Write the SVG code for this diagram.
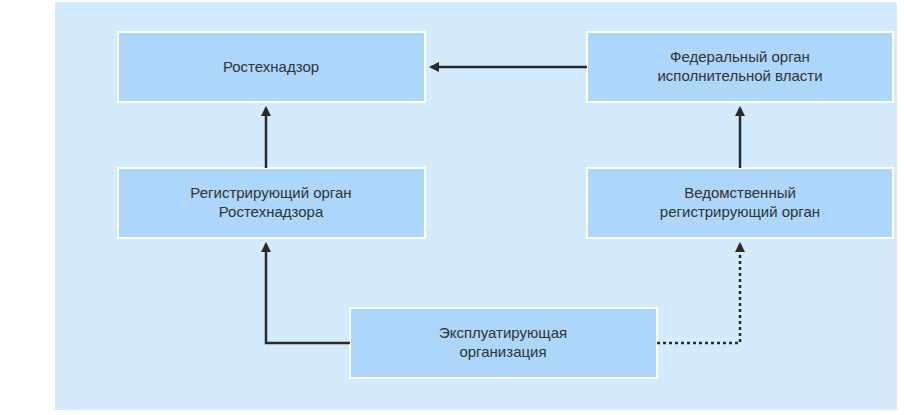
<svg xmlns="http://www.w3.org/2000/svg" width="904" height="415" viewBox="0 0 904 415">
<style>
.n rect{fill:#acd6fa;stroke:#fff;stroke-width:2}
.n text{font-family:"Liberation Sans",Arial,sans-serif;font-size:15px;fill:#333;text-anchor:middle}
.c{fill:none;stroke:#2a2a2a;stroke-width:2.5}
</style>
<defs><marker id="a" markerWidth="10" markerHeight="10" refX="8" refY="5" orient="auto" markerUnits="userSpaceOnUse"><path d="M0,0 L10,5 L0,10 Z" fill="#2a2a2a"/></marker></defs>
<rect x="0" y="0" width="904" height="415" fill="#fff"/>
<rect x="55" y="2" width="842" height="408" fill="#d3ebfc"/>
<g id="n1" class="n"><rect x="118" y="32" width="307" height="70"/><text x="271" y="72">Ростехнадзор</text></g>
<g id="n2" class="n"><rect x="587" y="32" width="306" height="70"/><text x="740" y="62">Федеральный орган</text><text x="740" y="81">исполнительной власти</text></g>
<g id="n3" class="n"><rect x="118" y="168" width="307" height="70"/><text x="271" y="198">Регистрирующий орган</text><text x="271" y="217">Ростехнадзора</text></g>
<g id="n4" class="n"><rect x="587" y="168" width="306" height="70"/><text x="740" y="198">Ведомственный</text><text x="740" y="217">регистрирующий орган</text></g>
<g id="n5" class="n"><rect x="350" y="308" width="307" height="70"/><text x="503" y="338">Эксплуатирующая</text><text x="503" y="357">организация</text></g>
<g id="connectors">
<path class="c" d="M587,67 H431" marker-end="url(#a)"/>
<path class="c" d="M266,168 V108" marker-end="url(#a)"/>
<path class="c" d="M740,168 V108" marker-end="url(#a)"/>
<path class="c" d="M350,343 H266 V244" marker-end="url(#a)"/>
<path class="c" d="M657,343 H740 V244" stroke-dasharray="3,3" marker-end="url(#a)"/>
</g>
</svg>
